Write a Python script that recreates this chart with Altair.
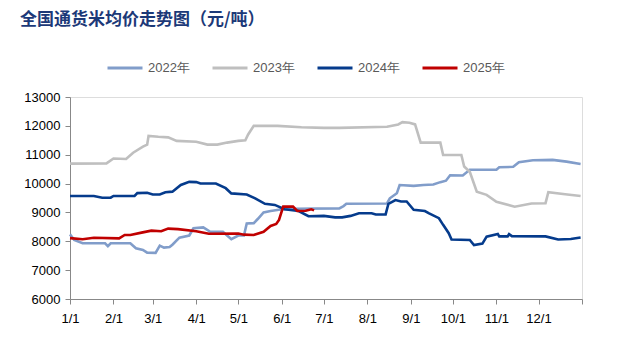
import altair as alt
import pandas as pd

years = ["2022年", "2023年", "2024年", "2025年"]
colors = ["#819dca", "#bfbfbf", "#053b8c", "#c00000"]

d2022 = ["01-01","01-04","01-10","01-26","01-28","01-30","02-13","02-17","02-22","02-25","03-03","03-06","03-09","03-13","03-15","03-20","03-27","03-30","04-06","04-11","04-20","04-23","04-26","05-01","05-05","05-07","05-12","05-15","05-19","05-24","05-31","06-11","07-12","07-15","07-17","08-15","08-17","08-22","08-24","09-03","09-10","09-17","09-22","09-26","09-29","10-08","10-13","11-01","11-03","11-13","11-17","11-27","12-11","12-21","12-31"]
v2022 = [8240,8045,7930,7930,7830,7930,7930,7757,7700,7605,7600,7850,7780,7800,7880,8125,8200,8450,8480,8330,8330,8200,8070,8200,8200,8620,8630,8780,9000,9050,9100,9130,9140,9220,9300,9310,9490,9663,9950,9920,9950,9970,10050,10100,10290,10280,10480,10480,10565,10580,10740,10810,10820,10760,10680]

d2023 = ["01-01","01-27","02-01","02-10","02-15","02-22","02-25","02-26","03-05","03-12","03-18","04-01","04-09","04-16","04-23","05-01","05-06","05-08","05-12","05-29","06-15","07-01","07-12","08-15","08-23","08-26","08-31","09-04","09-08","09-22","09-24","10-07","10-09","10-13","10-18","10-25","11-01","11-14","11-26","12-06","12-08","12-20","12-31"]
v2023 = [10690,10700,10870,10850,11070,11280,11350,11650,11620,11600,11480,11450,11350,11350,11420,11480,11500,11700,12000,12000,11950,11930,11930,11970,12050,12130,12110,12050,11420,11420,10990,10990,10590,10410,9720,9610,9370,9200,9310,9320,9700,9630,9570]

d2024 = ["01-01","01-18","01-24","01-30","02-01","02-16","02-18","02-25","03-01","03-06","03-10","03-15","03-21","03-27","04-01","04-04","04-15","04-22","04-26","05-07","05-13","05-20","05-27","06-03","06-13","06-20","07-01","07-09","07-14","07-20","07-26","08-04","08-07","08-14","08-16","08-21","08-25","08-29","09-03","09-11","09-14","09-21","09-24","09-28","09-30","10-13","10-16","10-22","10-25","11-02","11-03","11-09","11-10","11-12","12-06","12-15","12-24","12-31"]
v2024 = [9570,9570,9510,9510,9570,9570,9670,9680,9620,9620,9700,9720,9950,10060,10050,10000,10000,9840,9660,9620,9490,9300,9260,9110,9050,8870,8880,8830,8830,8880,8970,8970,8930,8930,9300,9430,9380,9380,9090,9050,8970,8800,8570,8280,8060,8045,7870,7920,8160,8250,8170,8170,8250,8180,8170,8060,8080,8130]

d2025 = ["01-01","01-10","01-18","02-05","02-09","02-13","02-21","02-28","03-07","03-12","03-19","04-01","04-10","05-01","05-05","05-12","05-19","05-24","05-28","05-30","06-02","06-09","06-12","06-18","06-22","06-24"]
v2025 = [8110,8070,8120,8100,8220,8220,8300,8370,8350,8440,8420,8350,8260,8270,8230,8220,8330,8530,8600,8740,9200,9200,9050,9060,9110,9070]

x_ticks = ["01-01","02-01","03-01","04-01","05-01","06-01","07-01","08-01","09-01","10-01","11-01","12-01"]
y_ticks = [6000, 7000, 8000, 9000, 10000, 11000, 12000, 13000]

frames = []
for name, ds, vs in zip(years, [d2022, d2023, d2024, d2025], [v2022, v2023, v2024, v2025]):
    frames.append(pd.DataFrame({"年份": name, "日期": ["2023-" + d for d in ds], "价格": vs}))
df = pd.concat(frames, ignore_index=True)

tick_vals = [alt.DateTime(year=2023, month=int(t[:2]), date=int(t[3:])) for t in x_ticks]
tick_vals.append(alt.DateTime(year=2024, month=1, date=1))

chart = alt.Chart(df).mark_line(strokeWidth=2.6, interpolate="linear").encode(
    x=alt.X("日期:T",
            scale=alt.Scale(domain=[alt.DateTime(year=2023, month=1, date=1),
                                    alt.DateTime(year=2024, month=1, date=1)]),
            axis=alt.Axis(values=tick_vals, format="%-m/%-d", title=None, grid=False,
                          labelExpr="year(datum.value) > 2023 ? '' : datum.label",
                          labelFlush=False, labelOverlap=False,
                          tickSize=5, labelPadding=8, labelFontSize=13)),
    y=alt.Y("价格:Q", scale=alt.Scale(domain=[6000, 13000], nice=False, zero=False),
            axis=alt.Axis(values=y_ticks, format="d", title=None, grid=False, tickSize=5,
                          labelPadding=5, labelFontSize=13, labelFlush=False)),
    color=alt.Color("年份:N", scale=alt.Scale(domain=years, range=colors),
                    legend=alt.Legend(title=None, orient="none", direction="horizontal",
                                      legendX=36, legendY=-48, symbolType="stroke",
                                      symbolSize=1225, symbolStrokeWidth=3,
                                      labelFontSize=13, labelColor="#595959",
                                      labelFont="Liberation Sans", columnPadding=16,
                                      labelOffset=4)),
).properties(
    width=512, height=202,
    title=alt.TitleParams("全国通货米均价走势图（元/吨）", anchor="start", frame="group",
                          font="Noto Sans CJK SC", fontSize=17, fontWeight="bold",
                          color="#1c3978", dx=-50, dy=-20, offset=0),
    autosize=alt.AutoSizeParams(type="none"),
    padding={"left": 70, "top": 97, "right": 35, "bottom": 50},
).configure_axis(
    domainColor="#d9d9d9", tickColor="#d9d9d9", labelColor="#7f7f7f",
    labelFont="Liberation Sans",
).configure_view(stroke=None).configure(background="white")

chart.save("out.html", embed_options={"renderer": "svg", "actions": False})
